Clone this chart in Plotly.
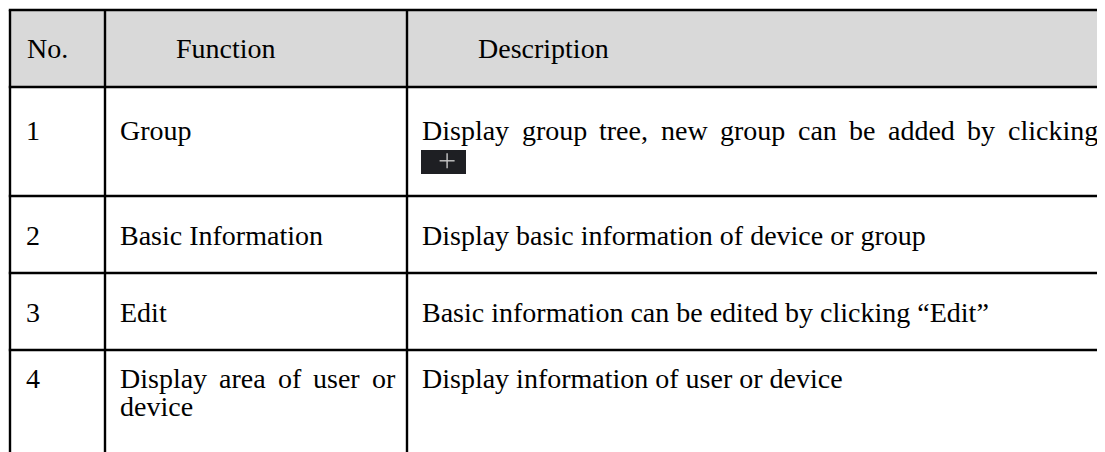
import plotly.graph_objects as go

# ---------------- data ----------------
headers = ["No.", "Function", "Description"]
numbers = ["1", "2", "3", "4"]
functions = [["Group"], ["Basic Information"], ["Edit"], ["Display area of user or", "device"]]
descriptions = [
    ["Display group tree, new group can be added by clicking"],
    ["Display basic information of device or group"],
    ["Basic information can be edited by clicking \u201cEdit\u201d"],
    ["Display information of user or device"],
]
# lines that are justified in the source document (row, column, line)
justified = {(0, 2, 0), (3, 1, 0)}

# ---------------- layout / style ----------------
W, H = 1105, 452
PAGE_OFFSET = 8  # default body margin of the html page
FONT = "Liberation Serif, Times New Roman, serif"
FS = 28
col_edges = [10, 105, 407, 1112]
row_edges = [10, 87, 196, 273, 350, 460]
text_left = [25, 119, 421]
header_left = [26, 175, 477]
justify_right = {2: 1097, 1: 394}
line_gap = 28
HEADER_FILL = "#d9d9d9"
LINE_COLOR = "#000000"
LINE_W = 2.4

# Times / Liberation Serif advance widths (1/1000 em)
TW = {" ": 250, ",": 250, ".": 250, "\u201c": 444, "\u201d": 444,
      "B": 667, "D": 722, "E": 611, "F": 556, "G": 722, "I": 333, "N": 722,
      "a": 444, "b": 500, "c": 444, "d": 500, "e": 444, "f": 333, "g": 500,
      "h": 500, "i": 278, "k": 500, "l": 278, "m": 778, "n": 500, "o": 500,
      "p": 500, "r": 333, "s": 389, "t": 278, "u": 500, "v": 500, "w": 722,
      "y": 500}


def text_width(s):
    return sum(TW.get(ch, 500) for ch in s) / 1000.0 * FS


fig = go.Figure()
shapes = []
annotations = []

# header background
shapes.append(dict(type="rect", xref="x", yref="y", x0=col_edges[0], x1=col_edges[-1],
                   y0=row_edges[0], y1=row_edges[1], fillcolor=HEADER_FILL,
                   line=dict(width=0), layer="below"))

# grid lines
for y in row_edges[:-1]:
    shapes.append(dict(type="line", xref="x", yref="y", x0=col_edges[0] - LINE_W / 2,
                       x1=col_edges[-1], y0=y, y1=y,
                       line=dict(color=LINE_COLOR, width=LINE_W)))
for x in col_edges[:-1]:
    shapes.append(dict(type="line", xref="x", yref="y", x0=x, x1=x,
                       y0=row_edges[0], y1=row_edges[-1],
                       line=dict(color=LINE_COLOR, width=LINE_W)))


def add_text(x, y, s):
    annotations.append(dict(x=x, y=y, xref="x", yref="y", text=s, showarrow=False,
                            xanchor="left", yanchor="middle", borderpad=0,
                            font=dict(family=FONT, size=FS, color="#000000")))


def add_justified(x0, x1, y, s):
    words = s.split(" ")
    widths = [text_width(w) for w in words]
    gap = (x1 - x0 - sum(widths)) / (len(words) - 1)
    x = x0
    for w, wd in zip(words, widths):
        add_text(x, y, w)
        x += wd + gap


# header text
header_y = (row_edges[0] + row_edges[1]) / 2
for c, h in enumerate(headers):
    add_text(header_left[c], header_y, h)

# body text
row_first_line = [130, 235, 312, 378]
for r in range(len(numbers)):
    cells = [[numbers[r]], functions[r], descriptions[r]]
    y0 = row_first_line[r]
    for c, lines in enumerate(cells):
        for i, line in enumerate(lines):
            y = y0 + i * line_gap
            if (r, c, i) in justified:
                add_justified(text_left[c], justify_right[c], y, line)
            else:
                add_text(text_left[c], y, line)

# "+" button icon after the first description line
ix0, ix1, iy0, iy1 = 421, 466, 150, 174
shapes.append(dict(type="rect", xref="x", yref="y", x0=ix0, x1=ix1, y0=iy0, y1=iy1,
                   fillcolor="#1e1f23", line=dict(width=0)))
pcx, pcy, arm = ix0 + 0.58 * (ix1 - ix0), iy0 + 0.45 * (iy1 - iy0), 7.5
shapes.append(dict(type="line", xref="x", yref="y", x0=pcx - arm, x1=pcx + arm, y0=pcy, y1=pcy,
                   line=dict(color="#c8c8c8", width=1.4)))
shapes.append(dict(type="line", xref="x", yref="y", x0=pcx, x1=pcx, y0=pcy - arm, y1=pcy + arm,
                   line=dict(color="#c8c8c8", width=1.4)))

fig.update_layout(
    width=W, height=H, margin=dict(l=0, r=0, t=0, b=0),
    paper_bgcolor="white", plot_bgcolor="white",
    xaxis=dict(range=[PAGE_OFFSET, W + PAGE_OFFSET], visible=False, fixedrange=True),
    yaxis=dict(range=[H + PAGE_OFFSET, PAGE_OFFSET], visible=False, fixedrange=True),
    shapes=shapes, annotations=annotations, showlegend=False,
)

fig.write_html("out.html")
